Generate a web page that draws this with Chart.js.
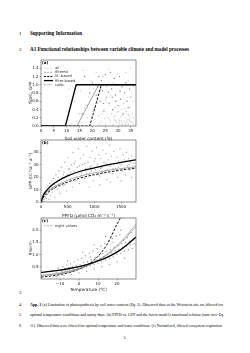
<!DOCTYPE html>
<html>
<head>
<meta charset="utf-8">
<script src="https://cdn.jsdelivr.net/npm/chart.js@4"></script>
<style>
body{margin:0;background:#fff;width:250px;height:353px;overflow:hidden;position:relative}
canvas{position:absolute}
svg{position:absolute;left:0;top:0}
</style>
</head>
<body>
<svg width="250" height="353" font-family="Liberation Serif" fill="#000">
  <text x="19" y="35" font-size="5">1</text>
  <text x="30" y="35" font-size="5.2" font-weight="bold" textLength="52" lengthAdjust="spacingAndGlyphs">Supporting Information</text>
  <text x="19" y="51" font-size="5">2</text>
  <text x="30" y="51" font-size="5.2" font-weight="bold" textLength="159" lengthAdjust="spacingAndGlyphs">A1 Functional relationships between variable climate and model processes</text>
  <text x="19" y="294" font-size="4.5">3</text>
  <text x="19" y="305.5" font-size="4.5">4</text>
  <text x="30" y="305.5" font-size="4.2" textLength="193" lengthAdjust="spacingAndGlyphs"><tspan font-weight="bold">App. 1</tspan> (a) Limitation of photosynthesis by soil water content (Eq. 5). Observed data of the Wetzstein site are filtered for</text>
  <text x="19" y="316" font-size="4.5">5</text>
  <text x="30" y="316" font-size="4.2" textLength="194" lengthAdjust="spacingAndGlyphs">optimal temperature conditions and sunny days. (b) PPFD vs. GPP and the forest model's functional relation (sum over Eq.</text>
  <text x="19" y="326.5" font-size="4.5">6</text>
  <text x="30" y="326.5" font-size="4.2" textLength="192" lengthAdjust="spacingAndGlyphs">11). Observed data were filtered for optimal temperature and water conditions. (c) Normalized, filtered ecosystem respiration</text>
  <text x="123.5" y="339" font-size="4.5">5</text>
</svg>
<canvas id="chartA" width="112" height="86" style="left:28px;top:56px"></canvas>
<canvas id="chartB" width="112" height="83" style="left:28px;top:136px"></canvas>
<canvas id="chartC" width="112" height="79" style="left:28px;top:214px"></canvas>
<script>
// ---- (a) soil water content ----
const swcTicks = [0, 5, 10, 15, 20, 25, 30, 35];
const fswcTicks = [0, 0.2, 0.4, 0.6, 0.8, 1.0, 1.2, 1.4];
const swcAll = [[12,0.05],[14,0.12],[15,0.3],[16,0.08],[17,0.45],[18,0.2],[18.5,0.7],[19,0.05],[19.5,1.1],[20,0.35],[20.5,0.9],[21,0.15],[21.5,1.3],[22,0.55],[22.5,0.25],[23,0.8],[23.5,0.1],[24,1.2],[24.5,0.4],[25,0.05],[25.2,0.65],[25.5,0.95],[26,0.2],[26.3,1.38],[26.5,0.5],[27,0.1],[27.2,0.75],[27.5,0.3],[28,0.02],[28.2,1.05],[28.5,0.15],[28.8,0.45],[29,0.25],[29.2,0.6],[29.5,0.08],[29.8,1.25],[30,0.18],[30.2,0.35],[30.5,0.05],[30.8,0.85],[31,0.22],[31.2,0.12],[31.5,0.4],[31.8,0.03],[32,0.28],[32.2,0.55],[32.5,0.1],[32.8,0.2],[33,0.06],[33.2,0.35],[33.5,0.15],[33.8,0.7],[34,0.04],[34.2,0.25],[34.5,0.12],[34.8,0.45],[35,0.08],[35.3,0.18],[35.6,0.3],[36,0.05],[26.8,0.15],[27.8,0.38],[29.6,0.32],[30.6,0.14],[31.6,0.26],[32.6,0.42],[33.6,0.09],[34.6,0.22],[35.8,0.6],[24.8,0.18],[23.8,0.3],[22.8,0.05],[21.8,0.62],[20.8,0.42],[19.8,0.22],[16.5,1.35],[13,0.6],[11,0.9],[15.5,0.85],[34,1.1],[35,1.4],[36,0.95],[33,1.3],[32,1.0],[30.3,0.1],[31.4,0.07],[32.9,0.02],[34.3,0.16],[35.5,0.11],[29.1,0.12],[28.4,0.22],[33.9,0.28],[35.9,0.2]];
const swcFiltered = [[16,0.3],[17,1.2],[18,0.5],[19,0.8],[20,1.05],[21,0.45],[22,0.95],[22.5,1.2],[23,0.6],[23.5,1.1],[24,0.85],[24.5,0.35],[25,1.25],[25.5,0.7],[26,1.0],[26.5,0.55],[27,1.3],[27.5,0.9],[28,0.4],[28.5,1.15],[29,0.75],[29.5,1.0],[30,0.5],[30.5,1.2],[31,0.65],[31.5,0.95],[32,0.3],[32.5,0.8],[33,1.05],[33.5,0.6],[34,0.45],[34.5,0.9],[35,0.7],[21.5,0.75],[26.2,0.82],[29.2,0.6],[30.8,0.85],[24.2,0.55],[27.8,0.7],[23.2,0.9]];
const swcLitX = [0, 19, 23.5, 37];
const swcLitY = [0, 0, 1, 1];
const swcFilterX = [0, 9.5, 13.7, 37];
const swcFilterY = [0, 0, 1, 1];
const swcCalibX = [0, 14, 22.5, 37];
const swcCalibY = [0, 0, 1, 1];

// ---- (b) PPFD vs GPP ----
const ppfdTicks = [0, 500, 1000, 1500];
const gppTicks = [0, 10, 20, 30, 40];
const ppfdPoints = [[20,1],[30,3],[40,0.5],[50,5],[60,2],[70,7],[80,4],[90,9],[100,3],[110,11],[120,6],[130,13],[140,8],[150,2],[160,15],[170,10],[180,5],[190,17],[200,12],[210,8],[230,19],[250,14],[260,4],[280,22],[300,16],[310,10],[330,25],[350,18],[360,7],[380,28],[400,20],[410,13],[430,24],[450,32],[460,16],[480,9],[500,22],[510,36],[530,27],[550,18],[570,30],[590,12],[600,40],[620,25],[640,33],[660,20],[680,28],[700,43],[720,15],[740,35],[760,24],[780,30],[800,38],[820,19],[840,27],[860,45],[880,32],[900,22],[920,36],[940,29],[960,41],[980,17],[1000,33],[1020,26],[1040,44],[1060,30],[1080,38],[1100,21],[1120,35],[1140,28],[1160,42],[1180,32],[1200,25],[1220,39],[1240,18],[1260,34],[1280,46],[1300,29],[1320,37],[1340,23],[1360,41],[1380,31],[1400,27],[1420,36],[1440,20],[1460,33],[1480,43],[1500,30],[1520,25],[1540,38],[1560,34],[1580,22],[1600,40],[1620,29],[1640,35],[1660,26],[1680,32],[1700,37],[1720,28],[1740,31],[150,9],[250,11],[350,13],[450,14],[550,24],[650,17],[750,21],[850,23],[950,25],[1050,22],[1150,24],[1250,26],[1350,27],[1450,28],[1550,27],[1650,30],[320,20],[420,22],[520,26],[620,31],[720,29],[820,31],[920,28],[1020,35],[1120,27],[1220,31],[900,12],[1100,14],[1300,16],[1500,17],[1700,20]];
const ppfdLine = [0, 50, 100, 200, 300, 500, 750, 1000, 1250, 1500, 1780];
const gppFilter = [0, 6, 9, 13.5, 16.5, 21, 25, 27.5, 30, 32, 34];
const gppLit = [0, 4, 6.5, 10, 12.5, 16, 19.5, 22, 24, 25.8, 27.3];
const gppCalib = [0, 5, 7.5, 11, 13.5, 17.5, 21, 23.5, 25.5, 27, 28.5];

// ---- (c) temperature vs normalised respiration ----
const tempTicks = [-10, 0, 10, 20];
const rnormTicks = [0.5, 1.0, 1.5, 2.0];
const nightPoints = [[-15,0.2],[-14,0.35],[-13,0.15],[-12,0.28],[-11,0.45],[-10,0.22],[-9.5,0.38],[-9,0.3],[-8.5,0.5],[-8,0.25],[-7.5,0.42],[-7,0.33],[-6.5,0.58],[-6,0.28],[-5.5,0.46],[-5,0.37],[-4.5,0.62],[-4,0.3],[-3.5,0.5],[-3,0.42],[-2.5,0.7],[-2,0.35],[-1.5,0.55],[-1,0.46],[-0.5,0.78],[0,0.4],[0.5,0.6],[1,0.52],[1.5,0.85],[2,0.45],[2.5,0.68],[3,0.58],[3.5,0.95],[4,0.5],[4.5,0.72],[5,0.63],[5.5,1.05],[6,0.55],[6.5,0.8],[7,0.7],[7.5,1.15],[8,0.6],[8.5,0.88],[9,0.78],[9.5,1.25],[10,0.65],[10.5,0.95],[11,0.85],[11.5,1.35],[12,0.7],[12.5,1.05],[13,0.92],[13.5,1.45],[14,0.78],[14.5,1.12],[15,1.0],[15.5,1.55],[16,0.85],[16.5,1.2],[17,1.08],[17.5,1.65],[18,0.9],[18.5,1.3],[19,1.15],[19.5,1.75],[20,1.0],[20.5,1.38],[21,1.22],[21.5,1.8],[22,1.05],[22.5,1.45],[23,1.3],[23.5,1.6],[24,1.15],[24.5,1.5],[25,1.35],[25.5,1.7],[26,1.2],[26.5,1.55],[27,1.4],[27.5,1.9],[28,1.25],[28.5,1.6],[29,1.45],[-12,0.1],[-8,0.15],[-4,0.18],[0,0.25],[4,0.32],[8,0.42],[12,0.5],[16,0.6],[20,0.7],[24,0.85],[-6,0.75],[2,1.1],[8,1.4],[14,1.75],[22,2.0],[6,0.9],[10,1.1],[18,1.5],[26,1.85]];
const tempLine = [-20, -15, -10, -5, 0, 5, 10, 15, 20, 25, 30];
const rnormFilter = [0.27, 0.31, 0.36, 0.43, 0.51, 0.61, 0.74, 0.9, 1.1, 1.38, 1.72];
const rnormCalib = [0.13, 0.17, 0.23, 0.31, 0.42, 0.56, 0.75, 1.0, 1.33, 1.72, 2.15];
const rnormCalib2 = [0.15, 0.19, 0.25, 0.33, 0.44, 0.58, 0.77, 1.03, 1.37, 1.78, 2.25];
const tempLitX = [-20, -15, -10, -5, 0, 5, 10, 15, 20, 21.8];
const rnormLit = [0.08, 0.12, 0.18, 0.27, 0.4, 0.6, 0.93, 1.45, 2.25, 2.5];

const FONT = 'DejaVu Sans';

function pts(list) { return list.map(p => ({x: p[0], y: p[1]})); }
function pairs(xs, ys) { return xs.map((x, i) => ({x: x, y: ys[i]})); }

function dots(label, list, color, r) {
    return {label: label, data: pts(list), backgroundColor: color, borderWidth: 0,
        pointRadius: r, pointHoverRadius: r, order: 5};
}
function curve(label, xs, ys, color, width, dash, smooth) {
    return {label: label, data: pairs(xs, ys), showLine: true, borderColor: color,
        borderWidth: width, borderDash: dash || [], pointRadius: 0, fill: false,
        tension: 0, cubicInterpolationMode: smooth ? 'monotone' : 'default', order: 1};
}

function axis(min, max, ticks, title, fmt, size, isY) {
    return {
        type: 'linear', min: min, max: max,
        afterBuildTicks: s => { s.ticks = ticks.map(v => ({value: v})); },
        afterFit: s => { if (isY) s.width = size; else s.height = size; },
        ticks: {font: {size: 4, family: FONT}, color: '#222', padding: 1,
            maxRotation: 0, autoSkip: false, callback: fmt},
        grid: {display: true, drawOnChartArea: false, tickLength: 1.5, color: '#333', lineWidth: 0.4},
        border: {display: false},
        title: {display: true, text: title, font: {size: 4.3, family: FONT}, color: '#222',
            padding: {top: 0, bottom: 1}}
    };
}

// frame, panel letter and a little legend inside the box
const framePlugin = {
    id: 'frame',
    afterDraw(chart, args, o) {
        const ctx = chart.ctx, a = chart.chartArea;
        ctx.save();
        ctx.strokeStyle = '#444';
        ctx.lineWidth = 0.6;
        ctx.strokeRect(a.left, a.top, a.right - a.left, a.bottom - a.top);
        ctx.fillStyle = '#000';
        ctx.font = 'bold 4px "' + FONT + '"';
        ctx.textBaseline = 'top';
        ctx.fillText(o.tag, a.left + 1, a.top + 0.5);
        ctx.font = '3.6px "' + FONT + '"';
        ctx.textBaseline = 'middle';
        (o.legend || []).forEach((e, i) => {
            const y = a.top + o.dy + i * 4.1;
            const x = a.left + 3;
            if (e.kind === 'dot') {
                ctx.fillStyle = e.color;
                [1, 4, 7].forEach(d => { ctx.beginPath(); ctx.arc(x + d, y, 0.7, 0, 7); ctx.fill(); });
            } else {
                ctx.strokeStyle = e.color;
                ctx.lineWidth = e.width;
                ctx.setLineDash(e.dash || []);
                ctx.beginPath(); ctx.moveTo(x, y); ctx.lineTo(x + 9, y); ctx.stroke();
                ctx.setLineDash([]);
            }
            ctx.fillStyle = '#333';
            ctx.fillText(e.text, x + 11, y);
        });
        ctx.restore();
    }
};

function makeChart(id, datasets, scales, frame) {
    return new Chart(document.getElementById(id), {
        type: 'scatter',
        data: {datasets: datasets},
        options: {
            responsive: false, animation: false, devicePixelRatio: 1,
            layout: {padding: {top: 4, right: 4, left: 0, bottom: 0}},
            scales: scales,
            plugins: {legend: {display: false}, tooltip: {enabled: false}, frame: frame}
        },
        plugins: [framePlugin]
    });
}

const f1 = v => v.toFixed(1);
const f0 = v => v < 0 ? '\u2212' + Math.abs(v) : String(v);

makeChart('chartA', [
    curve('filter-based', swcFilterX, swcFilterY, '#000', 1.3),
    curve('lit.-based', swcLitX, swcLitY, '#111', 1.0, [2.5, 1.5]),
    curve('calib.', swcCalibX, swcCalibY, '#777', 0.7),
    dots('filtered', swcFiltered, '#8a8a8a', 0.7),
    dots('all', swcAll, '#cdcdcd', 0.7)
], {
    x: axis(0, 37, swcTicks, 'Soil water content (%)', f0, 16, false),
    y: axis(0, 1.6, fswcTicks, 'fSWC, GPP', f1, 13, true)
}, {
    tag: '(a)', dy: 8.3,
    legend: [
        {text: 'all', kind: 'dot', color: '#c4c4c4'},
        {text: 'filtered', kind: 'dot', color: '#888'},
        {text: 'lit.-based', kind: 'line', color: '#111', width: 1, dash: [2, 1.2]},
        {text: 'filter-based', kind: 'line', color: '#000', width: 1.3},
        {text: 'calib.', kind: 'line', color: '#777', width: 0.7, dash: [2, 1, 0.5, 1]}
    ]
});

makeChart('chartB', [
    curve('filter-based', ppfdLine, gppFilter, '#000', 1.3, null, true),
    curve('lit.-based', ppfdLine, gppLit, '#111', 1.0, [2.5, 1.5], true),
    curve('calib.', ppfdLine, gppCalib, '#777', 0.6, null, true),
    dots('filtered', ppfdPoints, '#a9a9a9', 0.7)
], {
    x: axis(0, 1780, ppfdTicks, 'PPFD (\u00b5mol CO\u2082 m\u207b\u00b2 s\u207b\u00b9)', f0, 17, false),
    y: axis(0, 50, gppTicks, 'GPP (tC ha\u207b\u00b9 a\u207b\u00b9)', f0, 13, true)
}, {tag: '(b)', dy: 8});

makeChart('chartC', [
    curve('filter-based', tempLine, rnormFilter, '#000', 1.3, null, true),
    curve('calib.', tempLine, rnormCalib, '#888', 0.6, null, true),
    curve('calib. 2', tempLine, rnormCalib2, '#888', 0.6, null, true),
    curve('lit.-based', tempLitX, rnormLit, '#111', 1.0, [2.5, 1.5], true),
    dots('night values', nightPoints, '#9a9a9a', 0.7)
], {
    x: axis(-20, 30, tempTicks, 'Temperature (\u00b0C)', f0, 14, false),
    y: axis(0, 2.5, rnormTicks, 'Rnorm', f1, 13, true)
}, {
    tag: '(c)', dy: 7.7,
    legend: [{text: 'night values', kind: 'dot', color: '#999'}]
});
</script>
</body>
</html>
